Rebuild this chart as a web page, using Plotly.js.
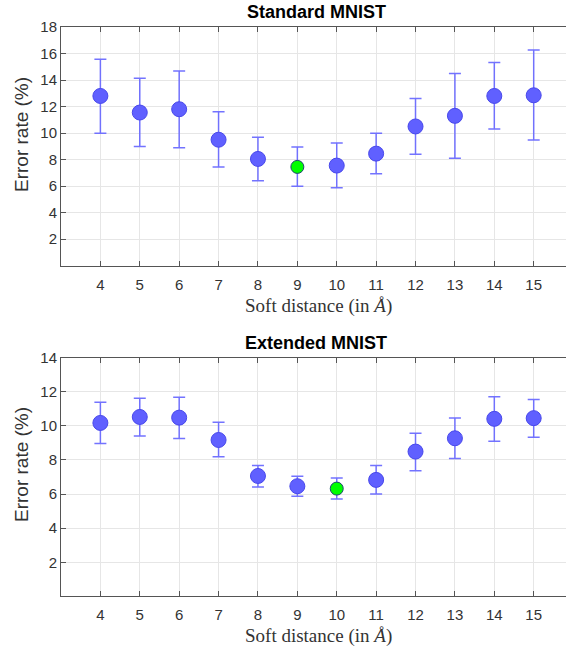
<!DOCTYPE html>
<html>
<head>
<meta charset="utf-8">
<script src="https://cdn.plot.ly/plotly-3.0.1.min.js"></script>
<style>html,body{margin:0;padding:0;background:#fff;}#chart{width:566px;height:647px;}</style>
</head>
<body>
<div id="chart"></div>
<script>
// Data
const distances = [4, 5, 6, 7, 8, 9, 10, 11, 12, 13, 14, 15];

const standardMean  = [12.8, 11.55, 11.8, 9.5, 8.05, 7.45, 7.55, 8.45, 10.5, 11.3, 12.8, 12.85];
const standardUpper = [15.57, 14.13, 14.68, 11.6, 9.68, 8.95, 9.25, 9.98, 12.6, 14.5, 15.33, 16.27];
const standardLower = [9.98, 8.98, 8.9, 7.44, 6.41, 5.99, 5.88, 6.94, 8.4, 8.1, 10.31, 9.48];
const standardBest = 9;

const extendedMean  = [10.17, 10.52, 10.48, 9.17, 7.06, 6.46, 6.32, 6.83, 8.49, 9.27, 10.41, 10.45];
const extendedUpper = [11.38, 11.62, 11.68, 10.21, 7.67, 7.04, 6.94, 7.67, 9.56, 10.46, 11.7, 11.54];
const extendedLower = [8.96, 9.41, 9.25, 8.18, 6.42, 5.87, 5.71, 6.0, 7.37, 8.08, 9.1, 9.33];
const extendedBest = 10;

const xTicks = [4, 5, 6, 7, 8, 9, 10, 11, 12, 13, 14, 15];
const yTicksStandard = [2, 4, 6, 8, 10, 12, 14, 16, 18];
const yTicksExtended = [2, 4, 6, 8, 10, 12, 14];

const titles = ['Standard MNIST', 'Extended MNIST'];
const xTitle = 'Soft distance (in <i>Å</i>)';
const yTitle = 'Error rate (%)';

// Styling
const blueFill = 'rgb(96,96,255)';
const blueLine = 'rgb(72,72,235)';
const greenFill = 'rgb(0,255,0)';
const greenLine = 'rgb(30,70,110)';
const errColor = 'rgba(100,100,255,0.9)';

function makeTrace(mean, upper, lower, best, xa, ya) {
  const colors = distances.map(d => d === best ? greenFill : blueFill);
  const lines = distances.map(d => d === best ? greenLine : blueLine);
  const sizes = distances.map(d => d === best ? 13 : 15);
  return {
    type: 'scatter', mode: 'markers',
    x: distances, y: mean, xaxis: xa, yaxis: ya,
    marker: {color: colors, size: sizes, opacity: 1, line: {color: lines, width: 1}},
    error_y: {
      type: 'data', symmetric: false,
      array: upper.map((u, i) => u - mean[i]),
      arrayminus: mean.map((m, i) => m - lower[i]),
      color: errColor, thickness: 1.5, width: 6
    },
    hoverinfo: 'x+y', showlegend: false
  };
}

const W = 566, H = 647;
const left = 61 / W;
const d1 = [(H - 265.7) / H, (H - 27) / H];
const d2 = [(H - 596.4) / H, (H - 357.6) / H];

const tickFont = {family: 'Liberation Sans, Arial, sans-serif', size: 15, color: '#333'};

function xAxis(anchor) {
  return {
    domain: [left, 1], anchor: anchor, range: [3, 15.82],
    tickvals: xTicks, ticktext: xTicks.map(String),
    ticks: 'inside', ticklen: 5, tickcolor: '#555', tickwidth: 1,
    ticklabelstandoff: 5,
    showline: true, linecolor: '#555', linewidth: 1, mirror: 'ticks',
    showgrid: true, gridcolor: '#e6e6e6', gridwidth: 1,
    zeroline: false, tickfont: tickFont, fixedrange: true
  };
}
function yAxis(anchor, domain, range, ticks) {
  return {
    domain: domain, anchor: anchor, range: range,
    tickvals: ticks, ticktext: ticks.map(String),
    ticks: 'inside', ticklen: 5, tickcolor: '#555', tickwidth: 1,
    showline: true, linecolor: '#555', linewidth: 1, mirror: false,
    showgrid: true, gridcolor: '#e6e6e6', gridwidth: 1,
    zeroline: false, tickfont: tickFont, fixedrange: true
  };
}

const annFontTitle = {family: 'Liberation Sans, Arial, sans-serif', size: 18, color: '#000'};
const annFontX = {family: 'Liberation Serif, Times New Roman, serif', size: 19, color: '#333'};
const annFontY = {family: 'Liberation Sans, Arial, sans-serif', size: 19, color: '#333'};

const annotations = [
  {text: '<b>' + titles[0] + '</b>', xref: 'paper', yref: 'paper', x: 316 / W, y: 1 - 12 / H, showarrow: false, font: annFontTitle, xanchor: 'center', yanchor: 'middle'},
  {text: '<b>' + titles[1] + '</b>', xref: 'paper', yref: 'paper', x: 316 / W, y: 1 - 343 / H, showarrow: false, font: annFontTitle, xanchor: 'center', yanchor: 'middle'},
  {text: xTitle, xref: 'paper', yref: 'paper', x: 318 / W, y: 1 - 306 / H, showarrow: false, font: annFontX, xanchor: 'center', yanchor: 'middle'},
  {text: xTitle, xref: 'paper', yref: 'paper', x: 318 / W, y: 1 - 636 / H, showarrow: false, font: annFontX, xanchor: 'center', yanchor: 'middle'},
  {text: yTitle, xref: 'paper', yref: 'paper', x: 21 / W, y: 1 - 135 / H, showarrow: false, font: annFontY, textangle: -90, xanchor: 'center', yanchor: 'middle'},
  {text: yTitle, xref: 'paper', yref: 'paper', x: 21 / W, y: 1 - 465 / H, showarrow: false, font: annFontY, textangle: -90, xanchor: 'center', yanchor: 'middle'}
];

const data = [
  makeTrace(standardMean, standardUpper, standardLower, standardBest, 'x', 'y'),
  makeTrace(extendedMean, extendedUpper, extendedLower, extendedBest, 'x2', 'y2')
];

const layout = {
  width: W, height: H,
  margin: {l: 0, r: 0, t: 0, b: 0, pad: 0},
  paper_bgcolor: '#fff', plot_bgcolor: '#fff',
  xaxis: xAxis('y'),
  yaxis: yAxis('x', d1, [0, 18], yTicksStandard),
  xaxis2: xAxis('y2'),
  yaxis2: yAxis('x2', d2, [0, 14], yTicksExtended),
  annotations: annotations,
  showlegend: false
};

Plotly.newPlot('chart', data, layout, {displayModeBar: false, staticPlot: true});
</script>
</body>
</html>
